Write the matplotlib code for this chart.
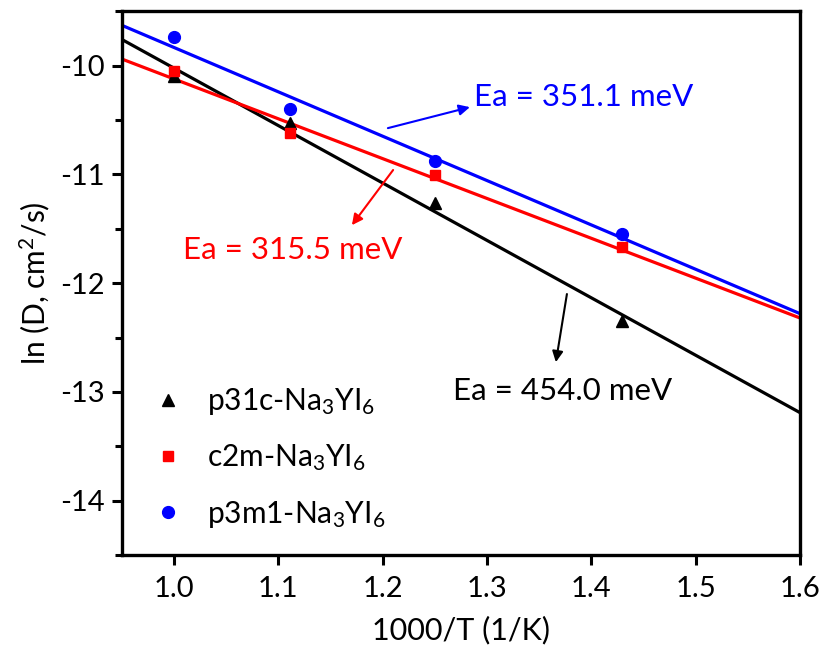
import matplotlib
matplotlib.use("Agg")
import matplotlib.pyplot as plt
from matplotlib.ticker import MultipleLocator

plt.rcParams['font.family'] = ['Lato', 'DejaVu Sans']
plt.rcParams['mathtext.fontset'] = 'custom'
plt.rcParams['mathtext.rm'] = 'Lato'
plt.rcParams['mathtext.it'] = 'Lato:italic'
plt.rcParams['axes.unicode_minus'] = False

# Data
inv_T = [1.0, 1.111, 1.25, 1.429]
lnD_p31c = [-10.10, -10.53, -11.26, -12.35]
lnD_c2m = [-10.05, -10.62, -11.01, -11.67]
lnD_p3m1 = [-9.74, -10.40, -10.88, -11.545]

fit_x = [0.95, 1.6]
fit_p31c = [-9.76, -13.19]
fit_c2m = [-9.94, -12.32]
fit_p3m1 = [-9.63, -12.28]

labels = ['p31c-Na$_3$YI$_6$', 'c2m-Na$_3$YI$_6$', 'p3m1-Na$_3$YI$_6$']
ea_labels = ['Ea = 454.0 meV', 'Ea = 315.5 meV', 'Ea = 351.1 meV']

black = '#000000'
red = '#ff0000'
blue = '#0000ff'

fig = plt.figure(figsize=(8.29, 6.57), dpi=100)
ax = fig.add_axes([0.147, 0.155, 0.818, 0.828])

ax.plot(fit_x, fit_p31c, color=black, lw=2.3, zorder=2)
ax.plot(fit_x, fit_c2m, color=red, lw=2.3, zorder=2)
ax.plot(fit_x, fit_p3m1, color=blue, lw=2.3, zorder=2)

ax.plot(inv_T, lnD_p31c, ls='none', marker='^', ms=9, color=black, label=labels[0], zorder=3)
ax.plot(inv_T, lnD_c2m, ls='none', marker='s', ms=7.5, color=red, label=labels[1], zorder=3)
ax.plot(inv_T, lnD_p3m1, ls='none', marker='o', ms=8.5, color=blue, label=labels[2], zorder=3)

ax.set_xlim(0.95, 1.6)
ax.set_ylim(-14.5, -9.5)
ax.yaxis.set_minor_locator(MultipleLocator(0.5))
ax.set_yticks([-10, -11, -12, -13, -14])
ax.set_xticks([1.0, 1.1, 1.2, 1.3, 1.4, 1.5, 1.6])

for s in ax.spines.values():
    s.set_linewidth(2.4)
ax.tick_params(axis='x', which='major', direction='out', length=7, width=2.2,
               labelsize=21, pad=8)
ax.tick_params(axis='y', which='major', direction='out', length=7, width=2.2,
               labelsize=21, pad=5)
ax.tick_params(axis='y', which='minor', direction='out', length=5, width=2.2)
ax.set_xlabel('1000/T (1/K)', fontsize=22, labelpad=10)
ax.set_ylabel('ln (D, cm$^2$/s)', fontsize=21.5, labelpad=6)

fs = 22.5
arrow_kw = dict(arrowstyle='-|>', lw=1.5, mutation_scale=16, shrinkA=0, shrinkB=0)

ax.annotate('', xy=(1.2836, -10.382), xytext=(1.205, -10.575),
            arrowprops=dict(color=blue, **arrow_kw))
ax.text(1.288, -10.29, ea_labels[2], color=blue, fontsize=fs, va='center', ha='left')

ax.annotate('', xy=(1.1705, -11.467), xytext=(1.21, -10.96),
            arrowprops=dict(color=red, **arrow_kw))
ax.text(1.0085, -11.697, ea_labels[1], color=red, fontsize=fs, va='center', ha='left')

ax.annotate('', xy=(1.366, -12.726), xytext=(1.3766, -12.10),
            arrowprops=dict(color=black, **arrow_kw))
ax.text(1.267, -12.99, ea_labels[0], color=black, fontsize=fs, va='center', ha='left')

leg = ax.legend(loc='lower left', bbox_to_anchor=(0.0, 0.0), frameon=False,
                fontsize=21.5, handletextpad=0.6, labelspacing=0.85, borderpad=0.3,
                borderaxespad=0.55, handlelength=1.4)

fig.savefig('out.png', dpi=100)
